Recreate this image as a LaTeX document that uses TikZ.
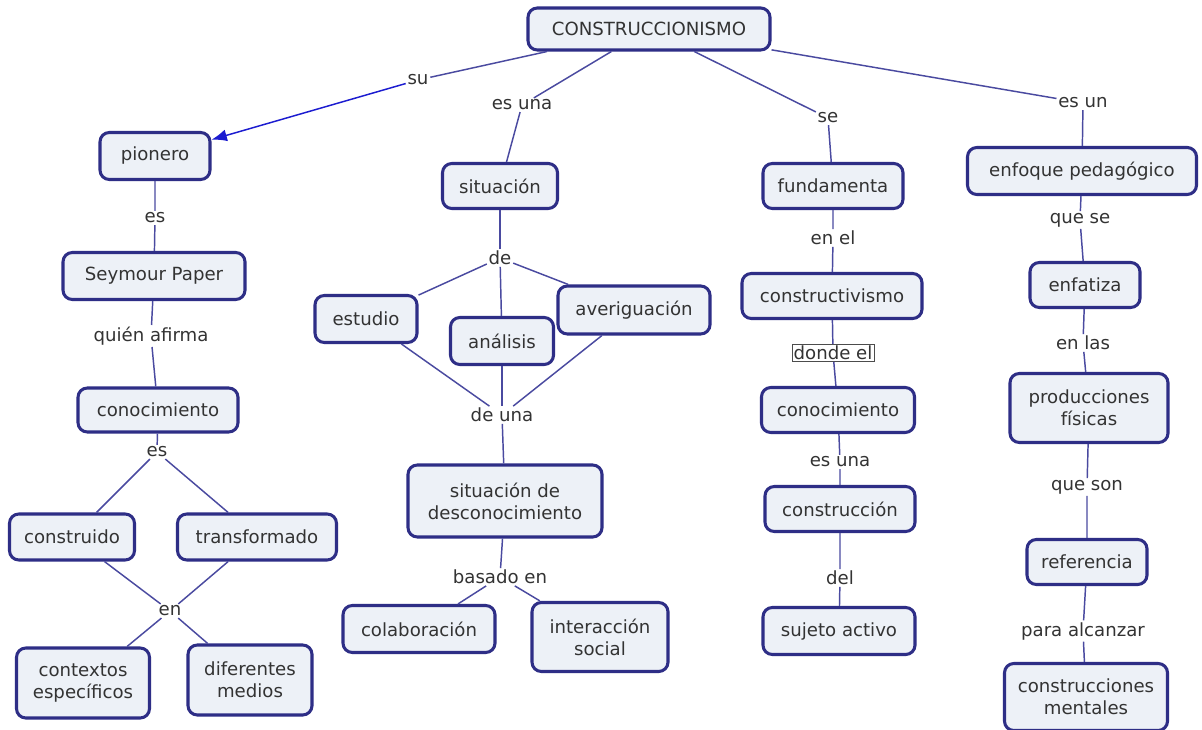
\documentclass[tikz,border=0pt]{standalone}
\usepackage{fontspec}
\setmainfont{DejaVu Sans}
\usetikzlibrary{arrows.meta}
\newdimen\px \px=0.75pt
\definecolor{boxline}{HTML}{2E2E86}
\definecolor{boxfill}{HTML}{EDF1F7}
\definecolor{linkline}{HTML}{4A4AA0}
\definecolor{txt}{HTML}{333333}
\definecolor{arrowblue}{HTML}{1C1CD0}
\tikzset{
  concept/.style={draw=boxline, line width=2.3pt, fill=boxfill, rounded corners=7pt,
    text=txt, align=center, inner sep=2pt, font=\fontsize{13.6}{16.5}\selectfont},
  linkword/.style={text=txt, fill=white, inner sep=1.2pt, font=\fontsize{13.6}{16.5}\selectfont},
  framedword/.style={linkword, draw=black!70, line width=0.5pt},
  link/.style={draw=linkline, line width=1.1pt},
  pointer/.style={link, -{Latex[length=11.5pt, width=9pt]}, arrowblue}
}
\begin{document}
\begin{tikzpicture}[x=0.75pt, y=-0.75pt]
\useasboundingbox[fill=white] (0,0) rectangle (1202,730);

% concepts
\node[concept, minimum width=242\px, minimum height=42\px] (root) at (649,29) {CONSTRUCCIONISMO};

\node[concept, minimum width=110\px, minimum height=47\px] (pion) at (155,156) {pionero};
\node[concept, minimum width=182\px, minimum height=47\px] (seym) at (154,276) {Seymour Paper};
\node[concept, minimum width=160\px, minimum height=44\px] (conA) at (158,410) {conocimiento};
\node[concept, minimum width=125\px, minimum height=46\px] (cons) at (72,537) {construido};
\node[concept, minimum width=159\px, minimum height=46\px] (tran) at (257,537) {transformado};
\node[concept, minimum width=133\px, minimum height=70\px] (ctx) at (83,683) {contextos\\específicos};
\node[concept, minimum width=124\px, minimum height=70\px] (med) at (250,680) {diferentes\\medios};

\node[concept, minimum width=115\px, minimum height=45\px] (sit) at (500,186) {situación};
\node[concept, minimum width=102\px, minimum height=47\px] (est) at (366,319) {estudio};
\node[concept, minimum width=103\px, minimum height=47\px] (ana) at (502,341) {análisis};
\node[concept, minimum width=152\px, minimum height=48\px] (ave) at (634,310) {averiguación};
\node[concept, minimum width=194\px, minimum height=72\px] (sdes) at (505,501) {situación de\\desconocimiento};
\node[concept, minimum width=152\px, minimum height=47\px] (col) at (419,629) {colaboración};
\node[concept, minimum width=136\px, minimum height=69\px] (inter) at (600,637) {interacción\\social};

\node[concept, minimum width=140\px, minimum height=45\px] (fund) at (833,186) {fundamenta};
\node[concept, minimum width=180\px, minimum height=45\px] (ctvo) at (832,296) {constructivismo};
\node[concept, minimum width=153\px, minimum height=45\px] (conB) at (838,410) {conocimiento};
\node[concept, minimum width=150\px, minimum height=45\px] (cion) at (840,509) {construcción};
\node[concept, minimum width=152\px, minimum height=47\px] (suj) at (839,631) {sujeto activo};

\node[concept, minimum width=229\px, minimum height=47\px] (enf) at (1082,171) {enfoque pedagógico};
\node[concept, minimum width=110\px, minimum height=45\px] (enfa) at (1085,285) {enfatiza};
\node[concept, minimum width=158\px, minimum height=69\px] (prod) at (1089,408) {producciones\\físicas};
\node[concept, minimum width=120\px, minimum height=45\px] (ref) at (1087,562) {referencia};
\node[concept, minimum width=163\px, minimum height=67\px] (ment) at (1086,697) {construcciones\\mentales};

% linking words
\node[linkword] (lsu) at (418,80) {su};
\node[linkword] (lesuna) at (522,105) {es una};
\node[linkword] (lse) at (828,118) {se};
\node[linkword] (lesun) at (1083,103) {es un};

\node[linkword] (les1) at (155,218) {es};
\node[linkword] (lqui) at (151,336) {quién afirma};
\node[linkword] (les2) at (157,452) {es};
\node[linkword] (len) at (170,611) {en};

\node[linkword] (lde) at (500,258) {de};
\node[linkword] (ldeuna) at (502,415) {de una};
\node[linkword] (lbas) at (500,577) {basado en};

\node[linkword] (lenel) at (833,238) {en el};
\node[framedword] (ldonde) at (833,353) {donde el};
\node[linkword] (lesuna2) at (840,462) {es una};
\node[linkword] (ldel) at (840,578) {del};

\node[linkword] (lquese) at (1080,220) {que se};
\node[linkword] (lenlas) at (1083,343) {en las};
\node[linkword] (lqueson) at (1087,487) {que son};
\node[linkword] (lpara) at (1083,631) {para alcanzar};

% connectors
\path[link] (root) -- (lsu);
\path[pointer] (lsu) -- (pion);
\path[link] (root) -- (lesuna) -- (sit);
\path[link] (root) -- (lse) -- (fund);
\path[link] (root) -- (lesun) -- (enf);

\path[link] (pion) -- (les1) -- (seym);
\path[link] (seym) -- (lqui) -- (conA);
\path[link] (conA) -- (les2);
\path[link] (les2) -- (cons);
\path[link] (les2) -- (tran);
\path[link] (cons) -- (len);
\path[link] (tran) -- (len);
\path[link] (len) -- (ctx);
\path[link] (len) -- (med);

\path[link] (sit) -- (lde);
\path[link] (lde) -- (est);
\path[link] (lde) -- (ana);
\path[link] (lde) -- (ave);
\path[link] (est) -- (ldeuna);
\path[link] (ana) -- (ldeuna);
\path[link] (ave) -- (ldeuna);
\path[link] (ldeuna) -- (sdes);
\path[link] (sdes) -- (lbas);
\path[link] (lbas) -- (col);
\path[link] (lbas) -- (inter);

\path[link] (fund) -- (lenel) -- (ctvo);
\path[link] (ctvo) -- (ldonde) -- (conB);
\path[link] (conB) -- (lesuna2) -- (cion);
\path[link] (cion) -- (ldel) -- (suj);

\path[link] (enf) -- (lquese) -- (enfa);
\path[link] (enfa) -- (lenlas) -- (prod);
\path[link] (prod) -- (lqueson) -- (ref);
\path[link] (ref) -- (lpara) -- (ment);
\end{tikzpicture}
\end{document}
